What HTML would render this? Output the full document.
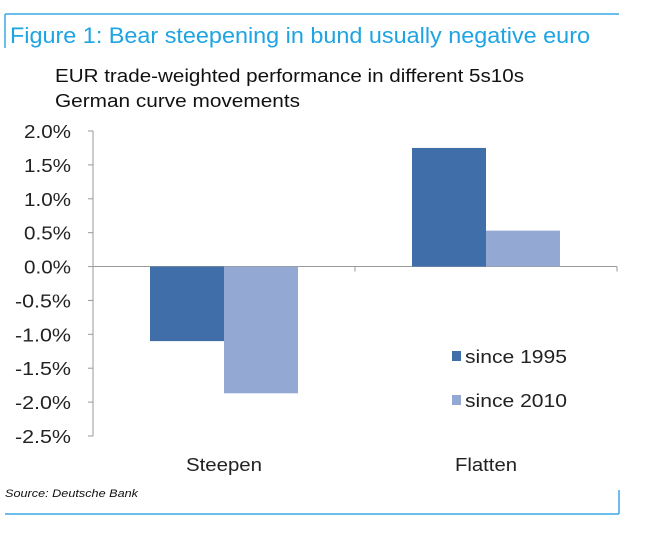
<!DOCTYPE html>
<html><head><style>
body{margin:0;background:#fff;width:651px;height:542px;overflow:hidden;font-family:"Liberation Sans",sans-serif}
</style></head><body>
<svg width="651" height="542" font-family="Liberation Sans, sans-serif">
<line x1="5" y1="14" x2="619" y2="14" stroke="#3aa8e4" stroke-width="1.5"/>
<line x1="5" y1="14" x2="5" y2="48" stroke="#3aa8e4" stroke-width="1.5"/>
<text x="10" y="43" font-size="22" textLength="580" lengthAdjust="spacingAndGlyphs" fill="#1ea4e2">Figure 1: Bear steepening in bund usually negative euro</text>
<text x="55" y="82" font-size="18.5" textLength="469" lengthAdjust="spacingAndGlyphs" fill="#111">EUR trade-weighted performance in different 5s10s</text>
<text x="55" y="107" font-size="18.5" textLength="245" lengthAdjust="spacingAndGlyphs" fill="#111">German curve movements</text>
<g id="axis"></g>
<g id="bars"></g>
<rect x="452" y="351" width="9" height="10" fill="#3f6ea8"/>
<text x="465" y="363" font-size="18" textLength="102" lengthAdjust="spacingAndGlyphs" fill="#222">since 1995</text>
<rect x="452" y="395" width="9" height="10" fill="#93a9d4"/>
<text x="465" y="407" font-size="18" textLength="102" lengthAdjust="spacingAndGlyphs" fill="#222">since 2010</text>
<text x="5" y="497" font-size="11" font-style="italic" textLength="133" lengthAdjust="spacingAndGlyphs" fill="#111">Source: Deutsche Bank</text>
<line x1="5" y1="514" x2="619" y2="514" stroke="#3aa8e4" stroke-width="1.5"/>
<line x1="619" y1="490" x2="619" y2="514" stroke="#3aa8e4" stroke-width="1.5"/>
</svg>
<script>
const categories=["Steepen","Flatten"];
const since1995=[-1.1,1.75];
const since2010=[-1.87,0.53];
const ticks=[2.0,1.5,1.0,0.5,0.0,-0.5,-1.0,-1.5,-2.0,-2.5];
const NS="http://www.w3.org/2000/svg";
const x0=93,catW=262,yTop=131,yBot=436,vMax=2,vMin=-2.5;
function y(v){return yTop+(vMax-v)/(vMax-vMin)*(yBot-yTop);}
function mk(t,a,p){const e=document.createElementNS(NS,t);for(const k in a)e.setAttribute(k,a[k]);p.appendChild(e);return e;}
const ax=document.getElementById('axis'),bg=document.getElementById('bars');
let l=mk('line',{x1:x0,y1:yTop,x2:x0,y2:yBot,stroke:'#999'},ax);


ticks.forEach(t=>{
 const tx0=mk('line',{x1:x0-5,y1:y(t),x2:x0,y2:y(t),stroke:'#999'},ax);
 
 
 const tx=mk('text',{x:71,y:y(t)+7,'font-size':18,fill:'#222','text-anchor':'end',textLength:t<0?56:47,lengthAdjust:'spacingAndGlyphs'},ax);
 tx.textContent=t.toFixed(1)+'%';
 
 
});
const zl=mk('line',{x1:x0,y1:y(0),x2:x0+2*catW,y2:y(0),stroke:'#999'},ax);


for(let i=0;i<=categories.length;i++){
 const tk=mk('line',{x1:x0+i*catW,y1:y(0),x2:x0+i*catW,y2:y(0)+5,stroke:'#999'},ax);
 
 
}
categories.forEach((c,i)=>{
 const cx=x0+i*catW+catW/2, bw=74;
 [[since1995[i],'#3f6ea8',cx-bw,'bar-1995-'],[since2010[i],'#93a9d4',cx,'bar-2010-']].forEach(([v,col,bx,nm])=>{
  const r=mk('rect',{x:bx,y:Math.min(y(v),y(0)),width:bw,height:Math.abs(y(v)-y(0)),fill:col},bg);
  
  
 });
 const t=mk('text',{x:cx,y:471,'font-size':18,fill:'#222','text-anchor':'middle',textLength:c==='Steepen'?76:62,lengthAdjust:'spacingAndGlyphs'},ax);
 t.textContent=c;
 
 
});
</script>
</body></html>
